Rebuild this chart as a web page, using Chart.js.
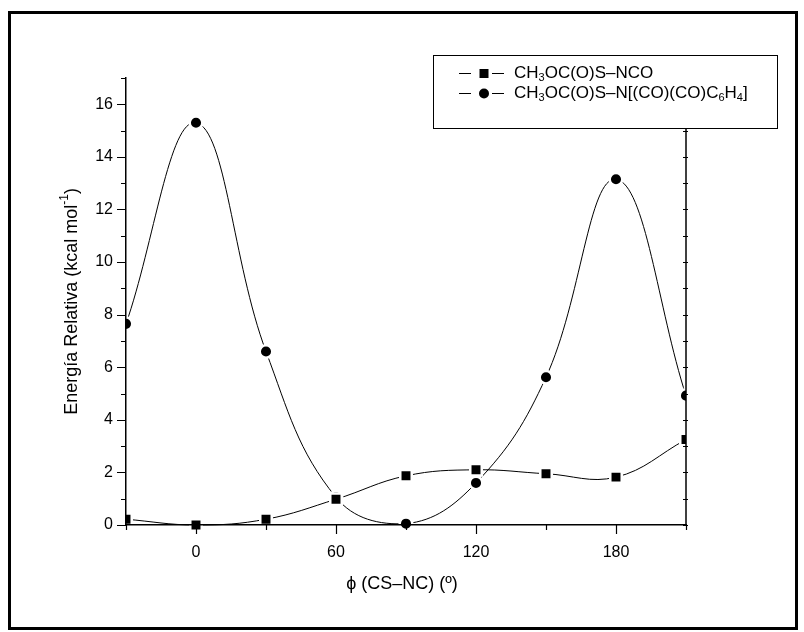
<!DOCTYPE html>
<html>
<head>
<meta charset="utf-8">
<script src="https://cdn.jsdelivr.net/npm/chart.js@4.4.1/dist/chart.umd.min.js"></script>
<style>
  html, body { margin: 0; padding: 0; background: #fff; }
</style>
</head>
<body>
<canvas id="myChart" width="804" height="632"></canvas>
<script>
// torsion angle phi (CS-NC), degrees
var angles = [-30, 0, 30, 60, 90, 120, 150, 180, 210];
// relative energies, kcal/mol
var ncoValues = [0.22, 0.0, 0.22, 0.98, 1.87, 2.1, 1.95, 1.82, 3.25];
var phthValues = [7.65, 15.3, 6.6, 1.05, 0.05, 1.6, 5.62, 13.15, 4.92];

var xTickValues = [0, 60, 120, 180];
var yTickValues = [0, 2, 4, 6, 8, 10, 12, 14, 16];

// legend text pieces: [text, 'sub'|'sup'|undefined]
var legendLabels = [
    [['CH'], ['3', 'sub'], ['OC(O)S\u2013NCO']],
    [['CH'], ['3', 'sub'], ['OC(O)S\u2013N[(CO)(CO)C'], ['6', 'sub'], ['H'], ['4', 'sub'], [']']]
];
var yTitle = [['Energ\u00eda Relativa (kcal mol'], ['-1', 'sup'], [')']];
var xTitle = '\u03d5 (CS\u2013NC) (\u00ba)';

var FONT = '"Liberation Sans", Arial, sans-serif';

function toXY(vals) {
    return angles.map(function (a, i) { return { x: a, y: vals[i] }; });
}

// draws text with sub/superscripts, returns width
function drawRich(ctx, parts, x, y, size, measureOnly) {
    var w = 0;
    parts.forEach(function (p) {
        var small = p[1] === 'sub' || p[1] === 'sup';
        ctx.font = (small ? Math.round(size * 0.65) : size) + 'px ' + FONT;
        var dy = p[1] === 'sub' ? size * 0.3 : (p[1] === 'sup' ? -size * 0.38 : 0);
        if (!measureOnly) ctx.fillText(p[0], x + w, y + dy);
        w += ctx.measureText(p[0]).width;
    });
    return w;
}

var decor = {
    id: 'decor',
    afterDraw: function (chart) {
        var ctx = chart.ctx, xs = chart.scales.x, ys = chart.scales.y, a = chart.chartArea;
        ctx.save();
        ctx.strokeStyle = '#000';
        ctx.fillStyle = '#000';
        ctx.lineWidth = 1.5;

        // right axis
        ctx.beginPath();
        ctx.moveTo(a.right, a.top);
        ctx.lineTo(a.right, a.bottom);
        ctx.stroke();

        // y ticks (left outward, right small)
        ctx.lineWidth = 1.2;
        for (var v = 0; v <= 17; v++) {
            var py = Math.round(ys.getPixelForValue(v)) + 0.5;
            var len = v % 2 === 0 ? 9 : 5;
            ctx.beginPath();
            ctx.moveTo(a.left - len, py);
            ctx.lineTo(a.left, py);
            ctx.moveTo(a.right - 3, py);
            ctx.lineTo(a.right + 2, py);
            ctx.stroke();
        }
        // x ticks
        for (var t = -30; t <= 210; t += 30) {
            var px = Math.round(xs.getPixelForValue(t)) + 0.5;
            var l = t % 60 === 0 ? 9 : 5;
            ctx.beginPath();
            ctx.moveTo(px, a.bottom);
            ctx.lineTo(px, a.bottom + l);
            ctx.stroke();
        }

        // axis titles
        ctx.textBaseline = 'middle';
        ctx.textAlign = 'center';
        ctx.font = '18px ' + FONT;
        ctx.fillText(xTitle, (a.left + a.right) / 2 - 4, 584);

        ctx.textAlign = 'left';
        ctx.save();
        ctx.translate(72, (a.top + a.bottom) / 2);
        ctx.rotate(-Math.PI / 2);
        var tw = drawRich(ctx, yTitle, 0, 0, 18, true);
        drawRich(ctx, yTitle, -tw / 2, 0, 18);
        ctx.restore();

        // legend box
        var bx = 433, by = 55, bw = 344, bh = 73;
        ctx.fillStyle = '#fff';
        ctx.fillRect(bx, by, bw, bh);
        ctx.lineWidth = 1;
        ctx.strokeRect(bx + 0.5, by + 0.5, bw, bh);
        ctx.fillStyle = '#000';
        var rows = [73, 93];
        rows.forEach(function (ry, i) {
            ctx.beginPath();
            ctx.moveTo(459, ry + 0.5);
            ctx.lineTo(471, ry + 0.5);
            ctx.moveTo(492, ry + 0.5);
            ctx.lineTo(504, ry + 0.5);
            ctx.stroke();
            ctx.beginPath();
            if (i === 0) {
                ctx.rect(479.5, ry - 4, 9, 9);
            } else {
                ctx.arc(484, ry + 0.5, 5, 0, Math.PI * 2);
            }
            ctx.fill();
            drawRich(ctx, legendLabels[i], 514, ry, 17);
        });

        // outer frame
        ctx.lineWidth = 3;
        ctx.strokeRect(9.5, 12.5, 787, 616);
        ctx.restore();
    }
};

var lineBase = {
    borderColor: '#000',
    borderWidth: 1,
    pointRadius: 0,
    tension: 0.4,
    order: 2,
    clip: { left: 0, right: 0, top: 20, bottom: 20 }
};

var myChart = new Chart(
    document.getElementById('myChart'),
    {
        type: 'line',
        data: {
            datasets: [
                Object.assign({ label: 'nco-line', data: toXY(ncoValues) }, lineBase),
                Object.assign({ label: 'phth-line', data: toXY(phthValues) }, lineBase),
                {
                    label: 'nco', data: toXY(ncoValues), showLine: false, order: 1,
                    pointStyle: 'rect', pointRadius: 8.1, pointBackgroundColor: '#000',
                    pointBorderColor: '#fff', pointBorderWidth: 2.5,
                    clip: { left: 0, right: 0, top: 20, bottom: 20 }
                },
                {
                    label: 'phth', data: toXY(phthValues), showLine: false, order: 1,
                    pointStyle: 'circle', pointRadius: 6.3, pointBackgroundColor: '#000',
                    pointBorderColor: '#fff', pointBorderWidth: 2.5,
                    clip: { left: 0, right: 0, top: 20, bottom: 20 }
                }
            ]
        },
        options: {
            responsive: false,
            animation: false,
            events: [],
            layout: { padding: { left: 76, right: 118, top: 78, bottom: 67 } },
            plugins: { legend: { display: false }, tooltip: { enabled: false } },
            scales: {
                x: {
                    type: 'linear',
                    min: -30,
                    max: 210,
                    afterBuildTicks: function (s) { s.ticks = xTickValues.map(function (v) { return { value: v }; }); },
                    afterFit: function (s) { s.height = 40; },
                    ticks: { color: '#000', font: { family: FONT, size: 16 }, padding: 18, maxRotation: 0 },
                    grid: { display: false, drawTicks: false },
                    border: { color: '#000', width: 1.5, z: 1 }
                },
                y: {
                    min: 0,
                    max: 17,
                    afterBuildTicks: function (s) { s.ticks = yTickValues.map(function (v) { return { value: v }; }); },
                    afterFit: function (s) { s.width = 50; },
                    ticks: { color: '#000', font: { family: FONT, size: 16 }, padding: 13 },
                    grid: { display: false, drawTicks: false },
                    border: { color: '#000', width: 1.5, z: 1 }
                }
            }
        },
        plugins: [decor]
    }
);
</script>
</body>
</html>
